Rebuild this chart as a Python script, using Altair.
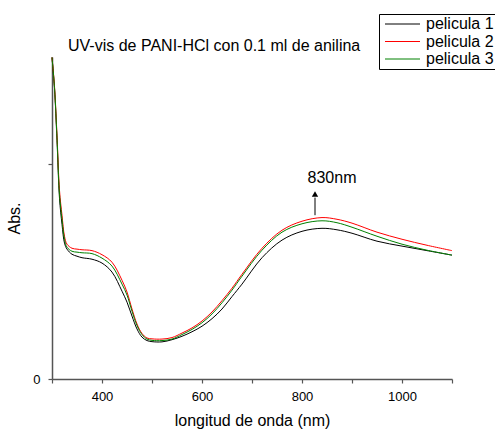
import altair as alt
import pandas as pd

wavelength = [300, 305, 310, 315, 320, 325, 330, 340, 350, 360, 380, 400, 420, 440, 450, 460,
              470, 480, 490, 500, 520, 540, 560, 580, 600, 620, 640, 660, 680, 720, 760, 800,
              840, 870, 900, 950, 1000, 1050, 1100]
pelicula_1 = [1.498, 1.353, 1.112, 0.842, 0.721, 0.633, 0.605, 0.581, 0.572, 0.565, 0.558, 0.540,
              0.498, 0.409, 0.358, 0.293, 0.233, 0.195, 0.179, 0.174, 0.173, 0.183, 0.199, 0.220,
              0.246, 0.281, 0.326, 0.384, 0.442, 0.565, 0.647, 0.688, 0.702, 0.695, 0.679, 0.642,
              0.619, 0.598, 0.577]
pelicula_2 = [1.498, 1.363, 1.135, 0.879, 0.763, 0.665, 0.628, 0.609, 0.605, 0.602, 0.598, 0.579,
              0.544, 0.460, 0.405, 0.326, 0.256, 0.212, 0.191, 0.187, 0.186, 0.193, 0.214, 0.238,
              0.270, 0.312, 0.365, 0.423, 0.488, 0.609, 0.693, 0.735, 0.752, 0.744, 0.726, 0.684,
              0.651, 0.623, 0.598]
pelicula_3 = [1.498, 1.358, 1.126, 0.860, 0.744, 0.651, 0.614, 0.595, 0.591, 0.588, 0.584, 0.563,
              0.526, 0.442, 0.391, 0.316, 0.249, 0.207, 0.186, 0.180, 0.179, 0.186, 0.207, 0.231,
              0.262, 0.303, 0.355, 0.414, 0.479, 0.600, 0.684, 0.723, 0.737, 0.728, 0.707, 0.665,
              0.628, 0.600, 0.577]
series_names = ["pelicula 1", "pelicula 2", "pelicula 3"]
series_colors = ["#000000", "#ff0000", "#008000"]

x_ticks = [300, 400, 500, 600, 700, 800, 900, 1000, 1100]
y_ticks = [0, 1]

title_text = ["UV-vis de PANI-HCl con 0.1 ml de anilina"]
title_x = [332]
title_y = [1.549]

peak_label = ["830nm"]
peak_label_x = [860]
peak_label_y = [0.935]
arrow_x = [826]
arrow_y0 = [0.763]
arrow_y1 = [0.845]
arrow_head_y = [0.862]

FONT = "Liberation Sans"

rows = []
for name, vals in zip(series_names, [pelicula_1, pelicula_2, pelicula_3]):
    for w, v in zip(wavelength, vals):
        rows.append({"wl": w, "abs": v, "serie": name})
df = pd.DataFrame(rows)

x_scale = alt.Scale(domain=[300, 1100], nice=False, zero=False)
y_scale = alt.Scale(domain=[0, 1.5], nice=False, zero=False)

lines = alt.Chart(df).mark_line(strokeWidth=1, interpolate="catmull-rom").encode(
    x=alt.X("wl:Q", scale=x_scale,
            axis=alt.Axis(title="longitud de onda (nm)", values=x_ticks, format="d",
                          labelExpr="datum.value % 200 == 0 ? datum.label : ''",
                          grid=False, tickSize=4, labelFontSize=13, labelPadding=7,
                          titleFontSize=16, titleFontWeight="normal", titlePadding=9,
                          domainColor="#555555", tickColor="#555555", domainWidth=1.5,
                          tickWidth=1.2, labelColor="#000000", titleColor="#000000",
                          labelFont=FONT, titleFont=FONT)),
    y=alt.Y("abs:Q", scale=y_scale,
            axis=alt.Axis(title="Abs.", values=y_ticks,
                          labelExpr="datum.value == 0 ? '0' : ''",
                          grid=False, tickSize=4, labelFontSize=13, labelPadding=8,
                          titleFontSize=16, titleFontWeight="normal", titlePadding=10,
                          domainColor="#555555", tickColor="#555555", domainWidth=1.5,
                          tickWidth=1.2, labelColor="#000000", titleColor="#000000",
                          labelFont=FONT, titleFont=FONT)),
    color=alt.Color("serie:N",
                    scale=alt.Scale(domain=series_names, range=series_colors),
                    legend=alt.Legend(title=None, orient="none", legendX=327, legendY=-43,
                                      symbolType="M-0.57,0H4.43", symbolSize=196,
                                      symbolStrokeWidth=1, labelOffset=29,
                                      labelFontSize=16, labelFont=FONT, labelColor="#000000",
                                      padding=2, rowPadding=1.5, strokeColor="#000000",
                                      fillColor="#ffffff")),
)

title_df = pd.DataFrame({"wl": title_x, "abs": title_y, "txt": title_text})
title_mark = alt.Chart(title_df).mark_text(align="left", baseline="middle", fontSize=16,
                                           font=FONT, color="#000000").encode(
    x="wl:Q", y="abs:Q", text="txt:N")

label_df = pd.DataFrame({"wl": peak_label_x, "abs": peak_label_y, "txt": peak_label})
label_mark = alt.Chart(label_df).mark_text(align="center", baseline="middle", fontSize=16,
                                           font=FONT, color="#000000").encode(
    x="wl:Q", y="abs:Q", text="txt:N")

arrow_df = pd.DataFrame({"wl": arrow_x, "abs": arrow_y0, "abs2": arrow_y1, "head": arrow_head_y})
arrow_rule = alt.Chart(arrow_df).mark_rule(color="#000000", strokeWidth=1).encode(
    x="wl:Q", y="abs:Q", y2="abs2:Q")
arrow_head = alt.Chart(arrow_df).mark_point(shape="triangle-up", filled=True, size=40,
                                            color="#000000", opacity=1).encode(
    x="wl:Q", y="head:Q")

chart = alt.layer(lines, arrow_rule, arrow_head, label_mark, title_mark).properties(
    width=400, height=322,
    autosize=alt.AutoSizeParams(type="none"),
    padding={"left": 52, "top": 57, "right": 43, "bottom": 50},
).configure(font=FONT, view=alt.ViewConfig(stroke=None))

chart.save("out.html", embed_options={"renderer": "svg", "actions": False})
